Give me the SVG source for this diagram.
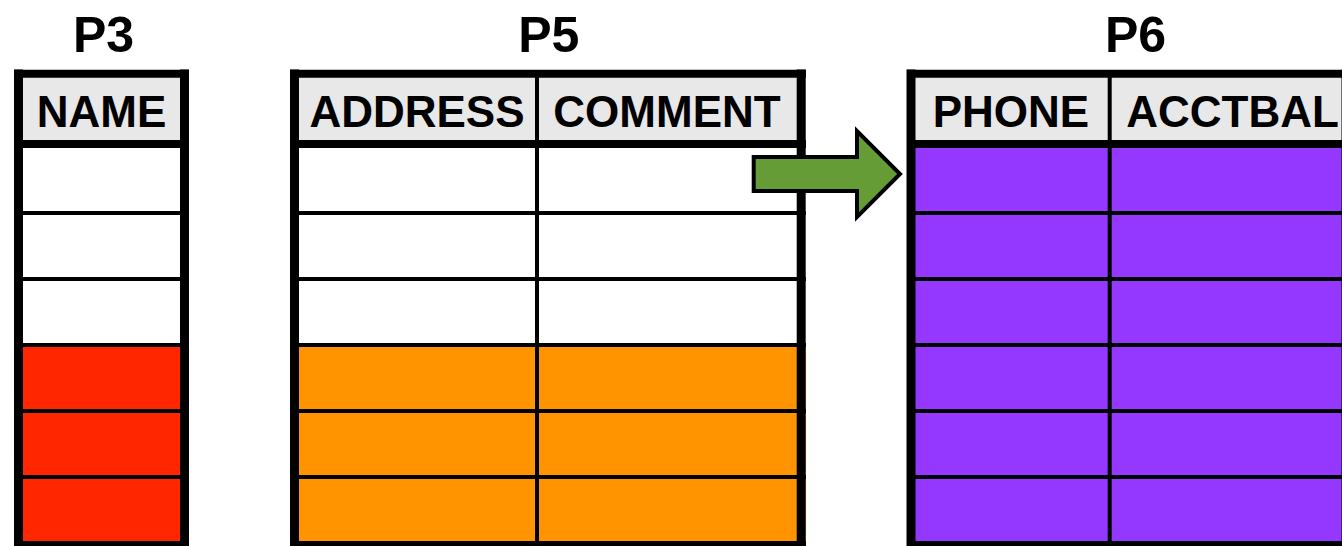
<svg xmlns="http://www.w3.org/2000/svg" width="1342" height="546" viewBox="0 0 1342 546">
  <style>
    .title { font-family: "Liberation Sans", Arial, sans-serif; font-weight: bold; font-size: 50px; fill: #000; text-anchor: middle; }
    .head { font-family: "Liberation Sans", Arial, sans-serif; font-weight: bold; font-size: 44px; fill: #000; text-anchor: middle; }
    .hdr { fill: #E8E8E8; }
    .blank { fill: #FFFFFF; }
    .red { fill: #FF2600; }
    .orange { fill: #FF9300; }
    .purple { fill: #9437FF; }
    .edge { stroke: #000; stroke-width: 9; fill: none; }
    .rule { stroke: #000; stroke-width: 8; fill: none; }
    .thin { stroke: #000; stroke-width: 4; fill: none; }
    .arrow { fill: #669C35; stroke: #000; stroke-width: 4; stroke-linejoin: miter; }
  </style>
  <rect width="1342" height="546" fill="#FFFFFF"/>

  <!-- P3: single NAME column -->
  <g id="P3">
    <text class="title" x="103.5" y="52">P3</text>
    <rect class="hdr" x="14" y="74" width="175" height="70"/>
    <rect class="blank" x="14" y="144" width="175" height="201"/>
    <rect class="red" x="14" y="345" width="175" height="201"/>
    <g class="thin">
      <line x1="14" y1="213" x2="189" y2="213"/>
      <line x1="14" y1="279" x2="189" y2="279"/>
      <line x1="14" y1="345" x2="189" y2="345"/>
      <line x1="14" y1="411" x2="189" y2="411"/>
      <line x1="14" y1="477" x2="189" y2="477"/>
    </g>
    <g class="rule">
      <line x1="14" y1="73.8" x2="189" y2="73.8"/>
      <line x1="14" y1="144" x2="189" y2="144"/>
      <line x1="14" y1="545" x2="189" y2="545"/>
    </g>
    <g class="edge">
      <line x1="18.5" y1="69.5" x2="18.5" y2="550"/>
      <line x1="184.5" y1="69.5" x2="184.5" y2="550"/>
    </g>
    <text class="head" x="101.5" y="127">NAME</text>
  </g>

  <!-- P5: ADDRESS and COMMENT columns -->
  <g id="P5">
    <text class="title" x="548.8" y="52">P5</text>
    <rect class="hdr" x="290" y="74" width="516" height="70"/>
    <rect class="blank" x="290" y="144" width="516" height="201"/>
    <rect class="orange" x="290" y="345" width="516" height="201"/>
    <g class="thin">
      <line x1="290" y1="213" x2="806" y2="213"/>
      <line x1="290" y1="279" x2="806" y2="279"/>
      <line x1="290" y1="345" x2="806" y2="345"/>
      <line x1="290" y1="411" x2="806" y2="411"/>
      <line x1="290" y1="477" x2="806" y2="477"/>
      <line x1="537" y1="74" x2="537" y2="546"/>
    </g>
    <g class="rule">
      <line x1="290" y1="73.8" x2="806" y2="73.8"/>
      <line x1="290" y1="144" x2="806" y2="144"/>
      <line x1="290" y1="545" x2="806" y2="545"/>
    </g>
    <g class="edge">
      <line x1="294.5" y1="69.5" x2="294.5" y2="550"/>
      <line x1="801.2" y1="69.5" x2="801.2" y2="550"/>
    </g>
    <text class="head" x="417" y="127">ADDRESS</text>
    <text class="head" x="667" y="127">COMMENT</text>
  </g>

  <!-- P6: PHONE and ACCTBAL columns -->
  <g id="P6">
    <text class="title" x="1135.5" y="52">P6</text>
    <rect class="hdr" x="907" y="74" width="450" height="70"/>
    <rect class="purple" x="907" y="144" width="450" height="402"/>
    <g class="thin">
      <line x1="907" y1="213" x2="1357" y2="213"/>
      <line x1="907" y1="279" x2="1357" y2="279"/>
      <line x1="907" y1="345" x2="1357" y2="345"/>
      <line x1="907" y1="411" x2="1357" y2="411"/>
      <line x1="907" y1="477" x2="1357" y2="477"/>
      <line x1="1109.7" y1="74" x2="1109.7" y2="546"/>
    </g>
    <g class="rule">
      <line x1="907" y1="73.8" x2="1357" y2="73.8"/>
      <line x1="907" y1="144" x2="1357" y2="144"/>
      <line x1="907" y1="545" x2="1357" y2="545"/>
    </g>
    <g class="edge">
      <line x1="911" y1="69.5" x2="911" y2="550"/>
      <line x1="1346" y1="69.5" x2="1346" y2="550"/>
    </g>
    <text class="head" x="1011" y="127">PHONE</text>
    <text class="head" x="1232.5" y="127">ACCTBAL</text>
  </g>

  <!-- connector: block arrow from P5 to P6 -->
  <g id="connectors">
    <polygon class="arrow" points="753.7,157 857,157 857,131 900,174 857,217 857,191 753.7,191"/>
  </g>
</svg>
